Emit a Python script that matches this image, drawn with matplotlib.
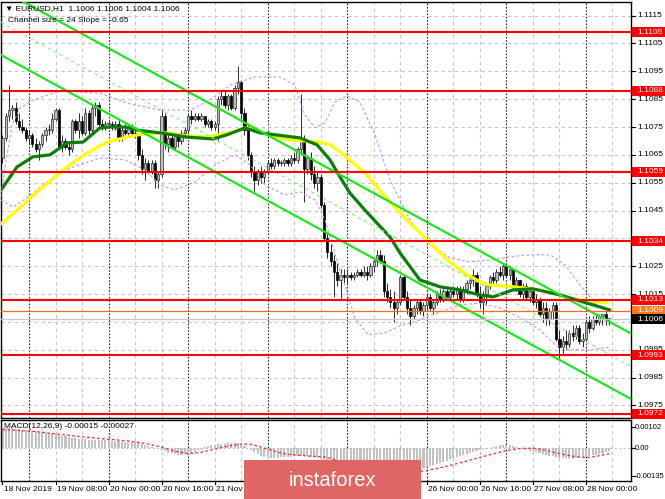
import matplotlib
matplotlib.use("Agg")
import matplotlib.pyplot as plt
from matplotlib.patches import Rectangle

# ---------------- data (prices in pips above 1.0900) ----------------
BASE = 1.0900
opens = [164,171,179,181,182,177,175,174,171,172, 169,167,169,172,174,174,178,181,168,170,
         168,167,177,174,177,173,180,174,182,183, 176,175,176,176,175,176,171,174,173,175,
         173,172,165,160,162,159,162,156,158,179, 169,171,168,172,170,173,174,179,178,179,
         178,179,176,177,175,176,185,186,183,186, 182,189,191,180,174,165,159,156,159,157,
         159,162,161,163,162,162,163,162,164,163, 167,170,160,164,158,155,157,147,135,130,
         127,123,120,122,121,122,121,122,123,122, 123,122,125,127,129,127,116,114,112,110,
         112,121,114,110,107,110,112,109,111,114, 110,112,115,113,116,114,116,115,117,113,
         117,119,120,122,115,112,115,118,121,120, 123,122,125,122,124,118,120,115,118,114,
         116,112,113,108,110,106,109,111,99,96, 98,97,101,100,103,98,99,105,103,106,
         105,107,108,106]
highs = [172,180,190,183,184,180,178,175,174,173, 171,170,173,175,176,180,182,182,172,171,
         170,178,178,180,179,182,181,183,184,184, 178,177,177,177,177,178,175,176,176,176,
         175,173,167,164,163,163,163,159,181,180, 172,172,173,173,174,175,180,181,180,180,
         180,179,178,178,177,186,188,188,187,187, 190,197,192,182,176,166,161,160,161,160,
         163,164,164,164,163,164,164,165,166,168, 187,172,165,166,161,159,158,148,137,133,
         129,126,124,124,124,123,123,124,124,125, 125,126,128,131,131,129,119,117,116,113,
         122,122,116,113,111,113,113,112,115,115, 113,116,117,117,117,117,118,118,118,118,
         120,122,124,123,118,116,119,122,123,124, 125,126,126,125,124,121,120,119,119,117,
         117,115,114,112,112,110,112,112,102,100, 102,102,104,104,104,101,106,107,107,108,
         108,108,109,106]
lows = [162,170,177,178,176,174,173,170,169,168, 166,163,168,170,172,173,177,167,166,167,
        165,166,173,171,172,172,172,173,179,175, 174,174,175,174,174,170,170,172,172,172,
        171,163,158,156,158,158,153,153,157,167, 166,167,167,168,169,171,173,176,177,177,
        177,175,175,174,174,170,183,182,181,181, 181,187,178,172,163,157,152,154,155,155,
        158,160,160,161,161,161,161,161,162,162, 165,148,158,156,153,152,146,134,128,125,
        114,118,113,119,119,120,120,121,121,121, 120,121,123,125,126,114,112,110,105,108,
        111,113,108,104,106,108,108,107,109,109, 108,111,112,112,113,113,114,113,112,112,
        115,117,118,114,110,108,111,117,119,119, 121,120,121,120,117,116,114,113,113,112,
        111,110,107,105,104,104,106,98,92,93, 95,96,98,99,97,96,98,101,102,104,
        104,104,104,104]
closes = [171,179,181,182,177,175,174,171,172,169, 167,169,172,174,174,178,181,168,170,168,
          167,177,174,177,173,180,174,182,183,176, 175,176,176,175,176,171,174,173,175,173,
          172,165,160,162,159,162,156,158,179,169, 171,168,172,170,173,174,179,178,179,178,
          179,176,177,175,176,185,186,183,186,182, 189,191,180,174,165,159,156,159,157,159,
          162,161,163,162,162,163,162,164,163,167, 170,160,164,158,155,157,147,135,130,127,
          123,120,122,121,122,121,122,123,122,123, 122,125,127,129,127,116,114,112,110,112,
          121,114,110,107,110,112,109,111,114,110, 112,115,113,116,114,116,115,117,113,117,
          119,120,122,115,112,115,118,121,120,123, 122,125,122,124,118,120,115,118,114,116,
          112,113,108,110,106,109,111,99,96,98, 97,101,100,103,98,99,105,103,106,105,
          107,108,106,106]

# moving averages: (bar index, pips)
ma_green_bar = [-0.45,2.3,4.4,9.2,14.3,19.5,24.3,29.4,32.4,37.0,40.6,47.5,55.7,63.5,67.7,73.2,77.7,89.7,
                94.9,98.8,101.8,104.8,109.3,116.9,119.9,125.9,132.0,138.0,144.0,148.0,154.0,160.0,168.2,175.1,183.2]
ma_green_val = [152.4,157.1,160.7,164.3,165.0,169.3,169.6,174.7,175.0,175.0,173.9,172.9,171.4,170.7,172.2,174.7,172.9,171.1,
                168.6,163.2,157.1,151.3,145.2,135.5,129.8,120.1,117.6,116.5,114.7,114.0,116.5,116.9,114.7,112.2,109.3]
ma_yellow_bar = [-0.45,4.4,10.4,18.3,25.5,31.5,37.6,42.4,49.6,55.7,61.7,69.5,73.2,76.2,79.8,86.7,95.8,98.8,
                 101.8,105.7,109.3,116.3,122.0,128.0,134.1,140.0,146.2,151.6,157.6,165.8,171.8,182.4]
ma_yellow_val = [140.2,145.2,151.7,159.6,165.7,169.6,171.4,172.5,172.9,171.8,171.4,173.2,174.7,174.3,172.2,170.4,169.6,168.6,
                 166.1,162.1,158.5,148.8,141.6,134.5,127.3,121.9,118.3,117.9,117.2,115.4,113.3,111.8]

# bollinger-style bands
bb_up_bar = [-0.5,1.1,2.9,5.3,9.2,17.3,29.4,38.5,47.5,56.6,62.6,68.6,76.2,83.7,88.2,91.2,94.3,97.3,100.3,103.9,
             107.8,112.4,116.9,122.9,129.0,135.0,141.0,147.1,153.1,159.1,165.2,169.7,174.2,178.7,183.3]
bb_up_val = [149.9,163.2,175.7,181.8,184.7,187.9,187.2,183.3,181.1,181.1,184.7,190.1,193.0,193.0,190.1,179.3,174.7,176.5,184.0,186.2,
             184.0,172.2,156.0,141.6,132.7,128.0,126.6,127.3,128.4,129.1,129.1,125.5,118.3,111.8,108.6]
bb_lo_bar = [-0.5,3.2,8.3,12.8,20.4,29.4,37.0,43.0,47.5,52.0,58.1,64.1,70.1,74.7,79.2,85.2,89.7,94.3,97.3,101.8,
             106.3,110.3,115.4,119.9,125.9,132.0,138.0,144.0,150.1,156.1,162.1,166.7,171.2,177.2,183.3]
bb_lo_val = [148.8,146.3,150.3,154.9,160.3,163.9,163.2,159.6,154.2,152.4,155.3,161.4,165.0,161.4,154.2,150.6,151.7,148.8,141.6,123.7,
             106.5,100.4,101.1,103.6,105.7,108.6,111.1,111.8,110.0,106.5,102.2,96.8,95.0,95.0,96.0]

# regression channel
chan_anchor_bar = 71.65
chan_anchor_val = 177.5
chan_slope = -0.65
chan_width = 23.5

# MACD (units of 1e-5)
macd_hist = [98,97,96,95,93,91,89,87,85,83, 81,79,77,75,73,71,68,64,60,57,
             54,51,48,46,44,42,41,40,40,40, 39,38,37,36,35,34,33,32,31,30,
             28,26,22,17,12,7,2,-4,-10,-16, -22,-26,-29,-31,-31,-30,-28,-24,-18,-10,
             -3,4,10,14,17,19,20,22,24,25, 27,26,20,12,3,-8,-18,-28,-36,-42,
             -46,-48,-48,-47,-45,-43,-42,-41,-40,-40, -38,-38,-40,-42,-44,-48,-55,-64,-74,-84,
             -94,-103,-111,-118,-123,-127,-130,-132,-133,-134, -134,-133,-132,-131,-130,-129,-128,-126,-124,-122,
             -119,-116,-113,-110,-107,-103,-99,-95,-90,-85, -80,-75,-70,-65,-60,-55,-50,-45,-40,-35,
             -30,-25,-20,-15,-10,-6,-2,2,6,10, 13,15,16,14,11,7,3,-2,-7,-12,
             -16,-20,-24,-28,-32,-36,-40,-44,-47,-49, -50,-51,-51,-50,-48,-45,-42,-38,-35,-31,
             -27,-23,-19,-15]
sig_bar = [0,10,20,30,38,44,48,52,56,60,64,68,72,75,78,82,86,92,97,100,104,108,112,116,120,124,
           128,132,136,140,144,148,152,156,160,163,166,169,172,176,179,183]
sig_val = [90,80,62,45,35,20,5,-15,-27,-20,-5,10,20,18,5,-15,-30,-38,-42,-55,-75,-95,-110,-120,-123,-118,
           -108,-95,-80,-62,-45,-28,-12,-2,0,-8,-19,-30,-39,-46,-40,-27]

levels_red = [1.1109, 1.1088, 1.1059, 1.1034, 1.1013, 1.0993, 1.0972]
level_orange = 1.1009
level_bid = 1.1006
price_grid = [1.1115, 1.1105, 1.1095, 1.1085, 1.1075, 1.1065, 1.1055, 1.1045, 1.1035,
              1.1025, 1.1015, 1.1005, 1.0995, 1.0985, 1.0975]
price_tick_labels = [1.1115, 1.1105, 1.1095, 1.1085, 1.1075, 1.1065, 1.1055, 1.1045,
                     1.1025, 1.1015, 1.0995, 1.0985, 1.0975]
time_tick_bars = [0, 16, 32, 48, 64, 80, 96, 112, 128, 144, 160, 176]
time_tick_labels = ["18 Nov 2019", "19 Nov 08:00", "20 Nov 00:00", "20 Nov 16:00", "21 Nov 08:00",
                    "", "", "", "26 Nov 00:00", "26 Nov 16:00",
                    "27 Nov 08:00", "28 Nov 00:00"]
day_sep_bars = [8, 32, 56, 80, 104, 128, 152, 176]
macd_ticks = [0.00102, 0.0, -0.00135]
macd_tick_labels = ["0.00102", "0.00", "-0.00135"]

# ---------------- drawing ----------------
plt.rcParams['font.family'] = ['Liberation Sans', 'DejaVu Sans']
W, H = 665, 499
fig = plt.figure(figsize=(W / 100, H / 100), dpi=100)
fig.patch.set_facecolor('white')


def rect(x0, y0, x1, y1):
    return [x0 / W, 1 - y1 / H, (x1 - x0) / W, (y1 - y0) / H]


def px(v):
    return BASE + v * 1e-4


ax = fig.add_axes(rect(1, 2, 631, 418))
mx = fig.add_axes(rect(1, 420, 631, 481))
XMIN, XMAX = -0.45, 189.6
ax.set_xlim(XMIN, XMAX)
ax.set_ylim(1.09705, 1.11199)
mx.set_xlim(XMIN, XMAX)
mx.set_ylim(-0.00159, 0.00136)
for a in (ax, mx):
    a.set_xticks([])
    a.set_yticks([])
    for s in a.spines.values():
        s.set_color('black')
        s.set_linewidth(1.0)
    a.set_zorder(1)

grid_c = '#c4c4c4'
for b in range(8, 190, 8):
    for a in (ax, mx):
        if b in day_sep_bars:
            a.axvline(b, color='#222222', lw=0.8, dashes=(1.5, 1.5), zorder=0.5)
        else:
            a.axvline(b, color=grid_c, lw=0.8, dashes=(3, 3), zorder=0.5)
for p in price_grid:
    ax.axhline(p, color=grid_c, lw=0.8, dashes=(3, 3), zorder=0.5)
mx.axhline(0.0, color=grid_c, lw=0.8, dashes=(2, 2), zorder=0.5)

# candles
for i in range(len(opens)):
    o, h, l, c = px(opens[i]), px(highs[i]), px(lows[i]), px(closes[i])
    ax.plot([i, i], [l, h], color='#2a2a2a', lw=0.7, zorder=2, solid_capstyle='butt')
    bull = closes[i] >= opens[i]
    bot = min(o, c)
    hgt = max(abs(c - o), 0.00004)
    ax.add_patch(Rectangle((i - 0.34, bot), 0.68, hgt,
                           facecolor='#bdbdbd' if bull else '#000000',
                           edgecolor='#2a2a2a' if bull else '#000000', lw=0.5, zorder=2.1))

ax.plot(bb_up_bar, [px(v) for v in bb_up_val], color='#c890f0', lw=0.8, dashes=(2.5, 2), zorder=3)
ax.plot(bb_lo_bar, [px(v) for v in bb_lo_val], color='#c890f0', lw=0.8, dashes=(2.5, 2), zorder=3)
ax.plot(ma_yellow_bar, [px(v) for v in ma_yellow_val], color='#ffff00', lw=2.3, zorder=4, solid_capstyle='round')
ax.plot(ma_green_bar, [px(v) for v in ma_green_val], color='#0b7d0b', lw=2.3, zorder=4.1, solid_capstyle='round')

cx = [XMIN, XMAX]
up = [px(chan_anchor_val + chan_slope * (x - chan_anchor_bar)) for x in cx]
lo = [u - chan_width * 1e-4 for u in up]
mid = [u - chan_width * 0.5e-4 for u in up]
ax.plot(cx, up, color='#1ee61e', lw=1.6, zorder=5)
ax.plot(cx, lo, color='#1ee61e', lw=1.6, zorder=5)
ax.plot(cx, mid, color='#7cf07c', lw=0.8, dashes=(3, 3), zorder=5)

for lv in levels_red:
    ax.axhline(lv, color='#ff0000', lw=1.5, zorder=6)
ax.axhline(level_orange, color='#ff6a10', lw=0.9, zorder=6)
ax.axhline(level_bid, color='#c8c8c8', lw=0.9, zorder=5.5)

ytr = ax.get_yaxis_transform()
fs = 6.0
for p in price_grid:
    ax.plot([1.0, 1.006], [p, p], transform=ytr, color='black', lw=0.8, clip_on=False)
for p in price_tick_labels:
    ax.text(1.0095, p, f"{p:.4f}", transform=ytr, fontsize=fs, va='center', ha='left',
            color='black', clip_on=False, zorder=7)
box_h = 0.00018
for lv, col in [(l, '#ff0000') for l in levels_red] + [(level_orange, '#ff7a1a'), (level_bid, '#000000')]:
    ax.add_patch(Rectangle((1.0016, lv - box_h), 0.053, 2 * box_h, transform=ytr, facecolor=col,
                           edgecolor='none', clip_on=False, zorder=8))
    ax.text(1.0095, lv, f"{lv:.4f}", transform=ytr, fontsize=fs, va='center', ha='left',
            color='white', clip_on=False, zorder=9)

mx.bar(range(len(macd_hist)), [v * 1e-5 for v in macd_hist], width=0.62, color='#c2c2c2', zorder=2)
mx.plot(sig_bar, [v * 1e-5 for v in sig_val], color='#ff2020', lw=0.9, dashes=(2, 2), zorder=3)
mtr = mx.get_yaxis_transform()
for v, t in zip(macd_ticks, macd_tick_labels):
    mx.plot([1.0, 1.006], [v, v], transform=mtr, color='black', lw=0.8, clip_on=False)
    mx.text(1.0055, v, t, transform=mtr, fontsize=5.5, va='center', ha='left', clip_on=False)

xtr = mx.get_xaxis_transform()
for b, t in zip(time_tick_bars, time_tick_labels):
    mx.plot([b, b], [0, -0.05], transform=xtr, color='black', lw=0.8, clip_on=False)
    if t:
        mx.text(b + 0.4, -0.135, t, transform=xtr, fontsize=fs, va='center', ha='left', clip_on=False)

fig.text(5 / W, 1 - 9 / H, "\u25BC EURUSD,H1  1.1006 1.1006 1.1004 1.1006", fontsize=fs, va='center', ha='left',
         family=['Liberation Sans', 'DejaVu Sans'], zorder=10)
fig.text(8 / W, 1 - 20 / H, "Channel size = 24 Slope = -0.65", fontsize=fs, va='center', ha='left', zorder=10)
fig.text(4 / W, 1 - 427 / H, "MACD(12,26,9) -0.00015 -0.00027", fontsize=fs, va='center', ha='left', zorder=10)

wm = Rectangle((244 / W, 0), 177 / W, 39 / H, transform=fig.transFigure, facecolor='#e06666',
               edgecolor='none', zorder=20)
fig.patches.append(wm)
fig.text(332 / W, 1 - 481 / H, "instaforex", fontsize=14.5, color='white', ha='center', va='center', zorder=21)

fig.savefig('out.png', dpi=100)
